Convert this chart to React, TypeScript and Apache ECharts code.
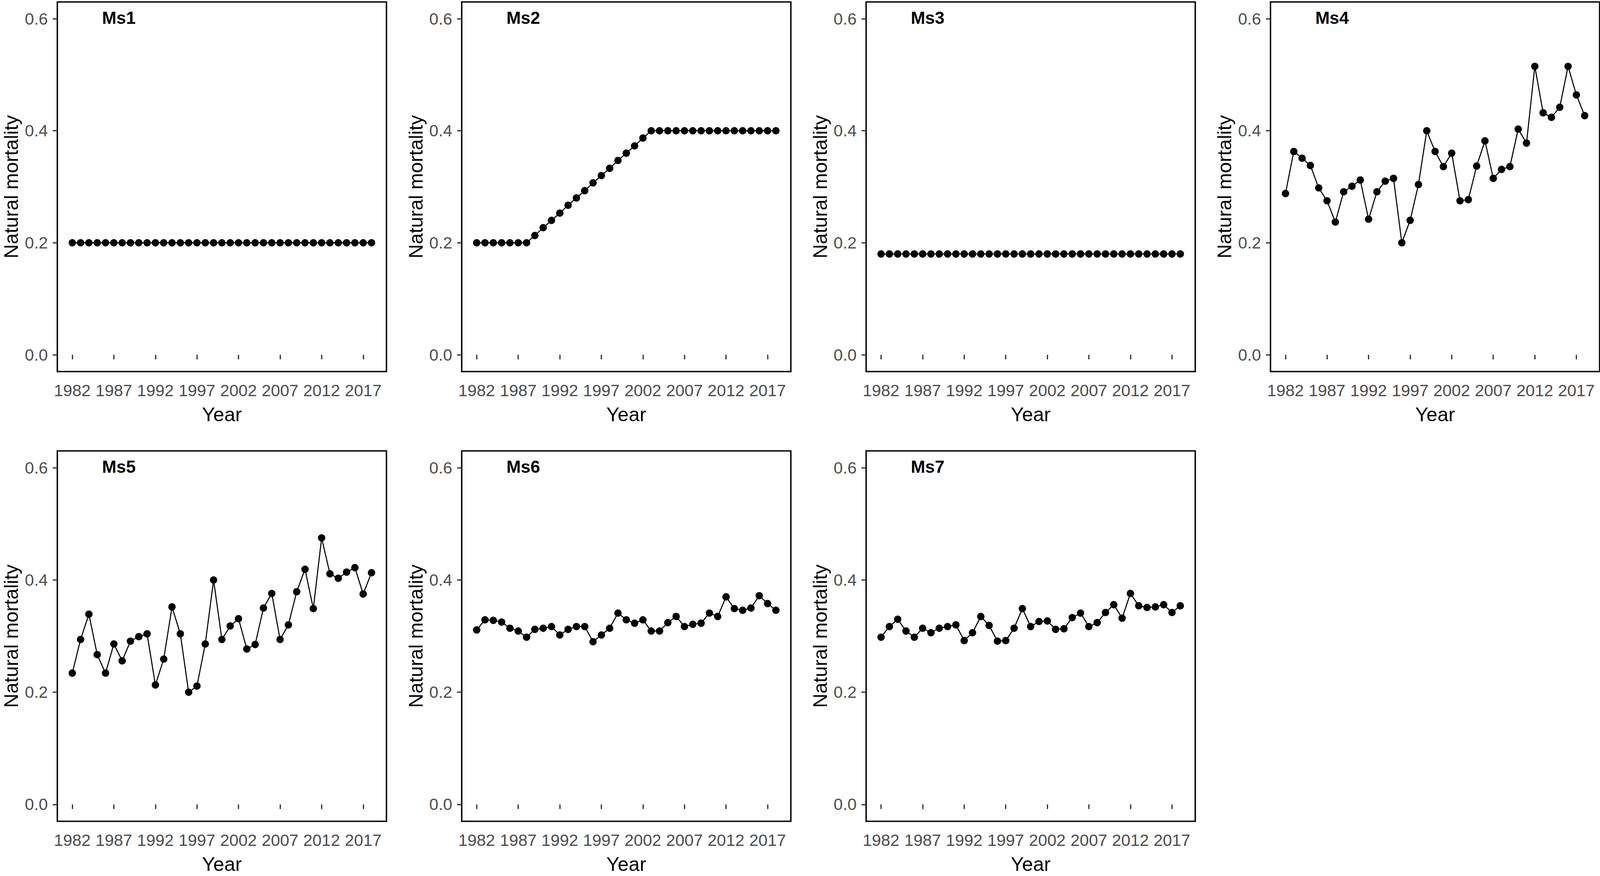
import React, { useEffect, useRef } from "react";
import * as echarts from "echarts";

const YEARS = [1982, 1983, 1984, 1985, 1986, 1987, 1988, 1989, 1990, 1991, 1992, 1993, 1994, 1995, 1996, 1997, 1998, 1999, 2000, 2001, 2002, 2003, 2004, 2005, 2006, 2007, 2008, 2009, 2010, 2011, 2012, 2013, 2014, 2015, 2016, 2017, 2018];
const X_TICKS = [1982, 1987, 1992, 1997, 2002, 2007, 2012, 2017];
const Y_TICKS = [0, 0.2, 0.4, 0.6];
const PANEL_NAMES = ["Ms1", "Ms2", "Ms3", "Ms4", "Ms5", "Ms6", "Ms7"];

const MS1 = [0.2, 0.2, 0.2, 0.2, 0.2, 0.2, 0.2, 0.2, 0.2, 0.2, 0.2, 0.2, 0.2, 0.2, 0.2, 0.2, 0.2, 0.2, 0.2, 0.2, 0.2, 0.2, 0.2, 0.2, 0.2, 0.2, 0.2, 0.2, 0.2, 0.2, 0.2, 0.2, 0.2, 0.2, 0.2, 0.2, 0.2];
const MS2 = [0.2, 0.2, 0.2, 0.2, 0.2, 0.2, 0.2, 0.213, 0.227, 0.24, 0.253, 0.267, 0.28, 0.293, 0.307, 0.32, 0.333, 0.347, 0.36, 0.373, 0.387, 0.4, 0.4, 0.4, 0.4, 0.4, 0.4, 0.4, 0.4, 0.4, 0.4, 0.4, 0.4, 0.4, 0.4, 0.4, 0.4];
const MS3 = [0.18, 0.18, 0.18, 0.18, 0.18, 0.18, 0.18, 0.18, 0.18, 0.18, 0.18, 0.18, 0.18, 0.18, 0.18, 0.18, 0.18, 0.18, 0.18, 0.18, 0.18, 0.18, 0.18, 0.18, 0.18, 0.18, 0.18, 0.18, 0.18, 0.18, 0.18, 0.18, 0.18, 0.18, 0.18, 0.18, 0.18];
const MS4 = [0.288, 0.363, 0.351, 0.338, 0.298, 0.275, 0.237, 0.291, 0.301, 0.312, 0.242, 0.291, 0.31, 0.315, 0.2, 0.24, 0.304, 0.4, 0.363, 0.336, 0.36, 0.275, 0.277, 0.337, 0.382, 0.315, 0.331, 0.336, 0.403, 0.378, 0.515, 0.432, 0.424, 0.442, 0.515, 0.464, 0.427];
const MS5 = [0.234, 0.294, 0.339, 0.267, 0.234, 0.286, 0.256, 0.291, 0.299, 0.304, 0.213, 0.259, 0.352, 0.304, 0.2, 0.211, 0.286, 0.4, 0.294, 0.318, 0.331, 0.277, 0.285, 0.35, 0.376, 0.294, 0.32, 0.379, 0.419, 0.349, 0.475, 0.411, 0.403, 0.414, 0.422, 0.375, 0.413];
const MS6 = [0.311, 0.329, 0.328, 0.325, 0.314, 0.309, 0.298, 0.312, 0.314, 0.317, 0.302, 0.312, 0.317, 0.317, 0.29, 0.302, 0.314, 0.341, 0.329, 0.323, 0.329, 0.309, 0.309, 0.324, 0.335, 0.317, 0.321, 0.323, 0.341, 0.335, 0.37, 0.349, 0.346, 0.35, 0.372, 0.358, 0.346];
const MS7 = [0.298, 0.317, 0.33, 0.309, 0.298, 0.314, 0.306, 0.314, 0.317, 0.32, 0.292, 0.306, 0.335, 0.319, 0.291, 0.292, 0.314, 0.349, 0.317, 0.326, 0.327, 0.312, 0.313, 0.333, 0.341, 0.317, 0.324, 0.342, 0.356, 0.332, 0.376, 0.354, 0.351, 0.352, 0.356, 0.342, 0.354];

const SERIES_VALUES = [MS1, MS2, MS3, MS4, MS5, MS6, MS7];

const FONT = '"Liberation Sans", Arial, Helvetica, sans-serif';

export default function App() {
  const ref = useRef<HTMLDivElement>(null);

  useEffect(() => {
    if (!ref.current) return;
    const chart = echarts.init(ref.current, undefined, { renderer: "svg" });
    const W = chart.getWidth() || 4550;
    const H = chart.getHeight() || 2242;
    const sx = W / 4550;
    const sy = H / 2242;
    const s = Math.min(sx, sy);

    const grids: any[] = [];
    const xAxes: any[] = [];
    const yAxes: any[] = [];
    const series: any[] = [];
    const graphics: any[] = [];

    const colStep = 1150;
    const left0 = 163;
    const width = 936;
    const rowTops = [5, 1154];
    const rowHeights = [946, 948];

    PANEL_NAMES.forEach((name, i) => {
      const row = i < 4 ? 0 : 1;
      const col = i < 4 ? i : i - 4;
      const left = (left0 + col * colStep) * sx;
      const top = rowTops[row] * sy;
      grids.push({
        left,
        top,
        width: width * sx,
        height: rowHeights[row] * sy,
        show: true,
        borderColor: "#000",
        borderWidth: 4 * s,
        backgroundColor: "#fff",
        containLabel: false,
      });
      xAxes.push({
        type: "value",
        gridIndex: i,
        min: 1980.2,
        max: 2019.8,
        name: "Year",
        nameLocation: "middle",
        nameGap: 84 * sy,
        nameTextStyle: { fontFamily: FONT, fontSize: 56 * s, lineHeight: 56 * s, color: "#000" },
        axisLine: { show: false },
        axisTick: {
          show: true,
          length: 13 * s,
          customValues: X_TICKS,
          lineStyle: { color: "#333", width: 3.5 * s },
        },
        axisLabel: {
          show: true,
          customValues: X_TICKS,
          margin: 27 * sy,
          fontFamily: FONT,
          fontSize: 47 * s,
          color: "#4D4D4D",
          formatter: (v: number) => String(Math.round(v)),
        },
        splitLine: { show: false },
      });
      yAxes.push({
        type: "value",
        gridIndex: i,
        min: -0.03,
        max: 0.63,
        name: "Natural mortality",
        nameLocation: "middle",
        nameGap: 103 * sx,
        nameTextStyle: { fontFamily: FONT, fontSize: 56 * s, lineHeight: 56 * s, color: "#000" },
        axisLine: { show: false },
        axisTick: {
          show: true,
          length: 13 * s,
          customValues: Y_TICKS,
          lineStyle: { color: "#333", width: 3.5 * s },
        },
        axisLabel: {
          show: true,
          customValues: Y_TICKS,
          margin: 27 * sx,
          fontFamily: FONT,
          fontSize: 47 * s,
          color: "#4D4D4D",
          formatter: (v: number) => v.toFixed(1),
        },
        splitLine: { show: false },
      });
      series.push({
        type: "line",
        xAxisIndex: i,
        yAxisIndex: i,
        data: YEARS.map((y, k) => [y, SERIES_VALUES[i][k]]),
        symbol: "circle",
        symbolSize: 21 * s,
        showSymbol: true,
        lineStyle: { color: "#000", width: 3 * s },
        itemStyle: { color: "#000" },
        z: 3,
      });
      graphics.push({
        type: "text",
        x: left + 175 * sx,
        y: top + 18 * sy,
        z: 10,
        style: {
          text: name,
          fontFamily: FONT,
          fontSize: 49 * s,
          fontWeight: "bold",
          fill: "#000",
          textAlign: "center",
          textVerticalAlign: "top",
        },
      });
    });

    chart.setOption({
      animation: false,
      backgroundColor: "#fff",
      grid: grids,
      xAxis: xAxes,
      yAxis: yAxes,
      series,
      graphic: graphics,
    });

    return () => chart.dispose();
  }, []);

  return (
    <div
      ref={ref}
      style={{ position: "fixed", left: 0, top: 0, width: "100vw", height: "100vh", background: "#fff" }}
    />
  );
}
